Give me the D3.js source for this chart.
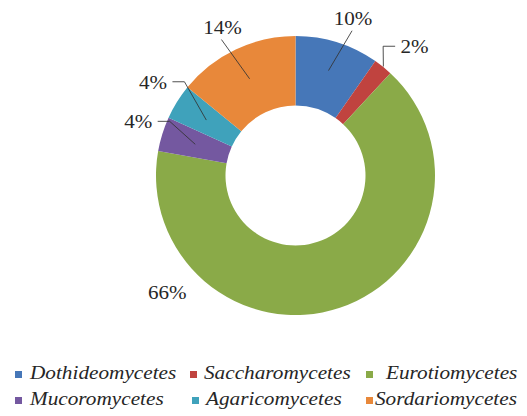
<!DOCTYPE html>
<html>
<head>
<meta charset="utf-8">
<script src="https://cdn.jsdelivr.net/npm/d3@7"></script>
<style>
  body { margin: 0; background: #fff; }
  text { font-family: "Liberation Serif", "Times New Roman", serif; fill: #262626; }
</style>
</head>
<body>
<svg id="chart"></svg>
<script>
// data (share of isolates, %)
var classes = ["Dothideomycetes", "Saccharomycetes", "Eurotiomycetes",
               "Mucoromycetes", "Agaricomycetes", "Sordariomycetes"];
var shares = [9.7, 2.2, 65.9, 4.0, 4.1, 14.1];
var colors = ["#4677B8", "#C0433F", "#8AAA48", "#7458A0", "#3FA2BB", "#E8883A"];

var width = 527, height = 416;
var cx = 295.5, cy = 175.5;
var outerR = 139.5, innerR = 70;
var stretch = 1.17; // the original text is a bit wide

// label layout: angle nudge (deg) and radius; leader end radius (null = no line)
var labelNudge = [[2.7, 167], [4, 175], [66, 174], [1.4, 166], [1.2, 170], [-0.9, 165]];
var leaderEnd = [110, 140, null, 105, 105, 107];

var svg = d3.select("#chart").attr("width", width).attr("height", height);
var g = svg.append("g").attr("transform", "translate(" + cx + "," + cy + ")");

var pie = d3.pie().sort(null).value(function (d) { return d; });
var arcs = pie(shares);
var arc = d3.arc().innerRadius(innerR).outerRadius(outerR);

g.selectAll("path.slice")
  .data(arcs)
  .enter()
  .append("path")
  .attr("class", "slice")
  .attr("d", arc)
  .attr("fill", function (d, i) { return colors[i]; });

function polar(a, r) { return [r * Math.sin(a), -r * Math.cos(a)]; }
function mid(d) { return (d.startAngle + d.endAngle) / 2; }

// percentage labels
var labels = g.selectAll("text.pct")
  .data(arcs)
  .enter()
  .append("text")
  .attr("class", "pct")
  .attr("text-anchor", "middle")
  .style("font-size", "18px")
  .attr("x", function (d, i) { return polar(mid(d) + labelNudge[i][0] * Math.PI / 180, labelNudge[i][1])[0]; })
  .attr("y", function (d, i) { return polar(mid(d) + labelNudge[i][0] * Math.PI / 180, labelNudge[i][1])[1] + 6; })
  .text(function (d) { return Math.round(d.data) + "%"; });

labels.each(function () {
  var w = this.getComputedTextLength();
  d3.select(this).attr("textLength", w * stretch).attr("lengthAdjust", "spacingAndGlyphs");
});

// leader lines
labels.each(function (d, i) {
  if (leaderEnd[i] === null) return;
  var lx = +this.getAttribute("x"), ly = +this.getAttribute("y") - 6;
  var w = this.getComputedTextLength() * stretch;
  var end = polar(mid(d), leaderEnd[i]);
  var pts;
  var dx = end[0] - lx, dy = end[1] - ly;
  if (Math.abs(dx) > Math.abs(dy) * 0.9) {
    // label off to the side: short horizontal piece, then down to the slice
    var side = dx > 0 ? 1 : -1;
    var sx = lx + side * (w / 2 + 3);
    pts = [[sx, ly - 1], [sx + side * 12, ly - 1], end];
  } else {
    pts = [[lx - 1, ly + 12], end];
  }
  g.append("polyline")
    .attr("points", pts.map(function (p) { return p.join(","); }).join(" "))
    .attr("fill", "none")
    .attr("stroke", "#333")
    .attr("stroke-opacity", 0.85)
    .attr("stroke-width", 1);
});

// legend
var legendPos = [[15, 30, 379], [190, 204, 379], [366, 386, 379],
                 [15, 30, 405], [192, 206, 405], [366, 375, 405]];

var legend = svg.selectAll("g.leg")
  .data(classes)
  .enter()
  .append("g")
  .attr("class", "leg");

legend.append("rect")
  .attr("x", function (d, i) { return legendPos[i][0]; })
  .attr("y", function (d, i) { return legendPos[i][2] - 8; })
  .attr("width", 7)
  .attr("height", 7)
  .attr("fill", function (d, i) { return colors[i]; });

legend.append("text")
  .attr("x", function (d, i) { return legendPos[i][1]; })
  .attr("y", function (d, i) { return legendPos[i][2]; })
  .style("font-size", "18px")
  .style("font-style", "italic")
  .text(function (d) { return d; })
  .each(function () {
    var w = this.getComputedTextLength();
    d3.select(this).attr("textLength", w * 1.18).attr("lengthAdjust", "spacingAndGlyphs");
  });
</script>
</body>
</html>
